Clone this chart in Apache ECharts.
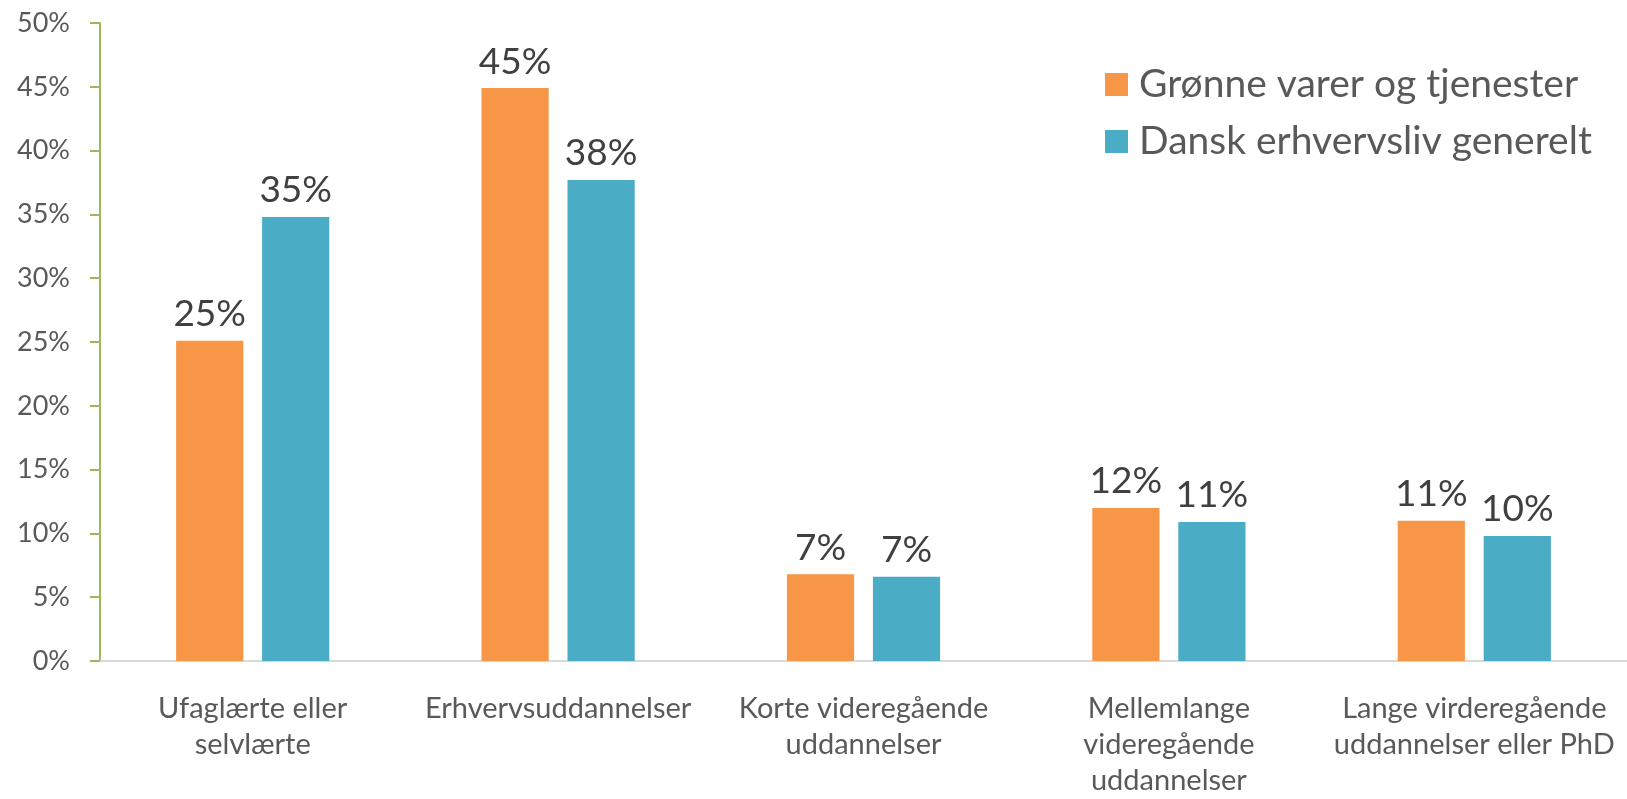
<!DOCTYPE html>
<html lang="da">
<head>
<meta charset="UTF-8">
<title>Uddannelse</title>
<script src="https://cdn.jsdelivr.net/npm/echarts@6/dist/echarts.min.js"></script>
<style>
  body { margin: 0; background: #fff; }
  #chart { width: 1627px; height: 799px; }
</style>
</head>
<body>
<div id="chart"></div>
<script>
const categories = ['Ufaglærte eller\nselvlærte', 'Erhvervsuddannelser', 'Korte videregående\nuddannelser', 'Mellemlange\nvideregående\nuddannelser', 'Lange virderegående\nuddannelser eller PhD'];
const groenne = [25.1, 44.9, 6.8, 12.0, 11.0];
const dansk = [34.8, 37.7, 6.6, 10.9, 9.8];
const seriesNames = ['Grønne varer og tjenester', 'Dansk erhvervsliv generelt'];

const font = 'Lato, "Open Sans", sans-serif';
const labelCfg = {
    show: true, position: 'top', distance: 8,
    color: '#404040', fontSize: 37, fontFamily: font,
    formatter: p => Math.round(p.value) + '%'
};

let chart = echarts.init(document.getElementById('chart'));
chart.setOption({
    animation: false,
    grid: { left: 100, right: 0, top: 23, bottom: 131 },
    legend: {
        orient: 'vertical', left: 1100, top: 60,
        itemWidth: 23, itemHeight: 23, itemGap: 18,
        icon: 'rect',
        textStyle: { color: '#595959', fontSize: 39, fontFamily: font, padding: [0, 0, 0, 6] }
    },
    xAxis: {
        type: 'category', data: categories,
        axisLine: { lineStyle: { color: '#d9d9d9', width: 2 } },
        axisTick: { show: false },
        axisLabel: { color: '#595959', fontSize: 29, fontFamily: font, lineHeight: 36, margin: 30, interval: 0 }
    },
    yAxis: {
        type: 'value', min: 0, max: 50, interval: 5,
        axisLine: { show: true, lineStyle: { color: '#9BBB59', width: 2 } },
        axisTick: { show: true, length: 10, lineStyle: { color: '#9BBB59', width: 2 } },
        splitLine: { show: false },
        axisLabel: { color: '#595959', fontSize: 27, fontFamily: font, margin: 30, formatter: '{value}%' }
    },
    series: [
        { name: seriesNames[0], type: 'bar', data: groenne, barWidth: '22%', barGap: '28%', itemStyle: { color: '#F79646' }, label: labelCfg },
        { name: seriesNames[1], type: 'bar', data: dansk, barWidth: '22%', barGap: '28%', itemStyle: { color: '#4BACC6' }, label: labelCfg }
    ]
});
</script>
</body>
</html>
